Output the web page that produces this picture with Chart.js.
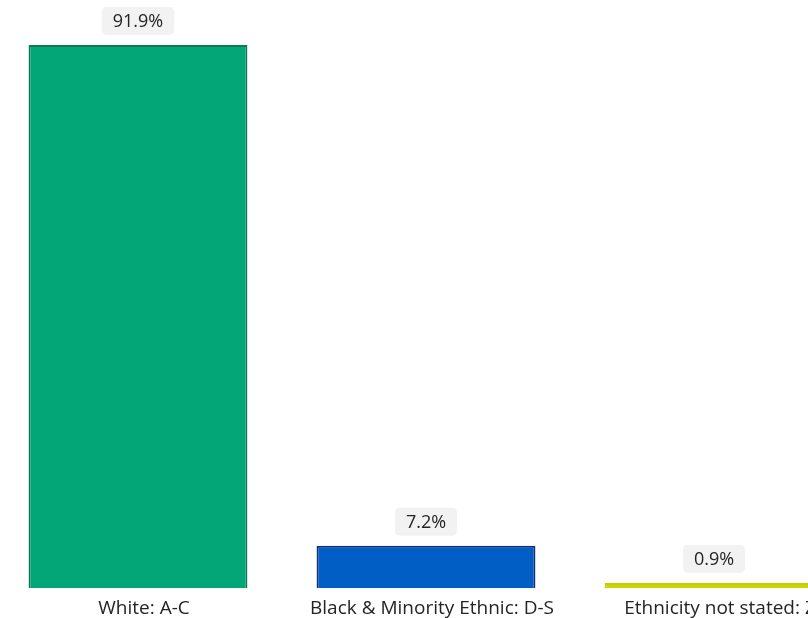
<!DOCTYPE html>
<html>
<head>
<meta charset="utf-8">
<script src="https://cdn.jsdelivr.net/npm/chart.js@4"></script>
<style>
  html, body { margin: 0; padding: 0; background: #fff; overflow: hidden; width: 808px; height: 618px; }
  #wrap { position: absolute; left: -6px; top: 0; width: 864px; height: 629px; }
</style>
</head>
<body>
<div id="wrap"><canvas id="c"></canvas></div>
<script>
const categories = ["White: A-C", "Black & Minority Ethnic: D-S", "Ethnicity not stated: Z"];
const values = [91.9, 7.2, 0.9];
const valueLabels = ["91.9%", "7.2%", "0.9%"];
const barColors = ["#02a677", "#005ec4", "#cbd500"];
const borderColors = ["#0a7a55", "#0b2f7e", "#c4cf00"];

const FONT = "'Segoe UI', 'Open Sans', 'Noto Sans', sans-serif";

const labelPlugin = {
  id: 'valueBoxes',
  afterDatasetsDraw(chart) {
    const ctx = chart.ctx;
    const meta = chart.getDatasetMeta(0);
    ctx.save();
    ctx.font = "18px " + FONT;
    ctx.textAlign = 'center';
    ctx.textBaseline = 'middle';
    meta.data.forEach((bar, i) => {
      const txt = valueLabels[i];
      const w = ctx.measureText(txt).width + 22;
      const h = 28;
      const cx = bar.x;
      const cy = bar.y - 24;
      ctx.fillStyle = '#f2f2f2';
      ctx.beginPath();
      ctx.roundRect(cx - w / 2, cy - h / 2, w, h, 5);
      ctx.fill();
      ctx.fillStyle = '#252423';
      ctx.fillText(txt, cx, cy + 1);
    });
    ctx.restore();
  }
};

new Chart(document.getElementById('c'), {
  type: 'bar',
  data: {
    labels: categories,
    datasets: [{
      data: values,
      backgroundColor: barColors,
      borderColor: borderColors,
      borderWidth: 2,
      categoryPercentage: 0.76,
      barPercentage: 1.0
    }]
  },
  options: {
    responsive: true,
    maintainAspectRatio: false,
    animation: false,
    layout: { padding: { top: 45, left: 0, right: 0, bottom: 0 } },
    plugins: { legend: { display: false }, tooltip: { enabled: false } },
    scales: {
      y: { display: false, min: 0, max: 91.9 },
      x: {
        grid: { display: false, drawTicks: false },
        border: { display: false },
        ticks: { color: '#252423', font: { size: 19, family: FONT }, padding: 9, labelOffset: 6, maxRotation: 0, autoSkip: false }
      }
    }
  },
  plugins: [labelPlugin]
});
</script>
</body>
</html>
